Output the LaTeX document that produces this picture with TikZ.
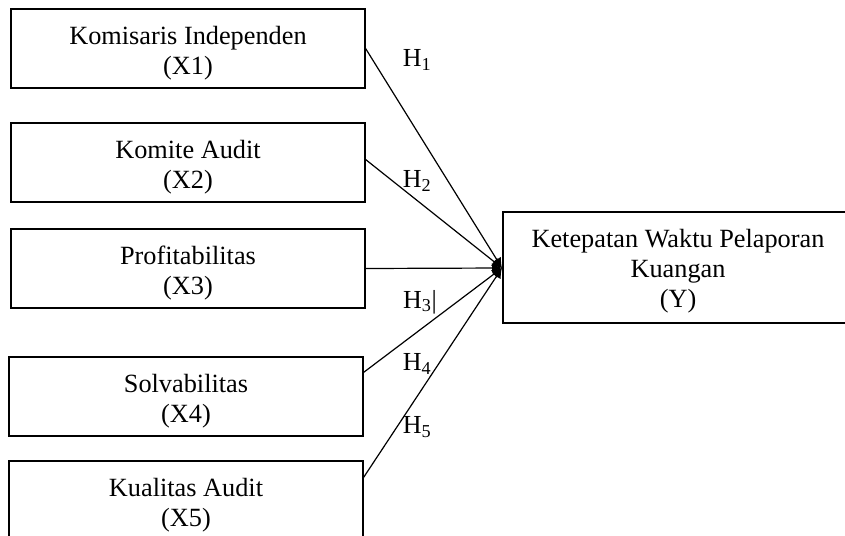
\documentclass[tikz,border=0pt]{standalone}
\usepackage{fontspec}
\setmainfont{Liberation Serif}
\usetikzlibrary{calc,arrows.meta}
\begin{document}
\begin{tikzpicture}[x=1pt,y=-1pt,
  box/.style={draw, line width=1.2pt, minimum width=354pt, minimum height=79pt,
    inner sep=0pt},
  boxtext/.style={align=center, inner sep=0pt, font=\fontsize{26.3}{30}\selectfont, yshift=-5pt},
  conn/.style={line width=1.2pt, -{Latex[length=10pt,width=10pt]}},
  lbl/.style={inner sep=0pt, font=\fontsize{26}{30}\selectfont}]
\useasboundingbox (0,0) rectangle (845,535);
\node[box, label={[boxtext]center:{Komisaris Independen\\(X1)}}] (x1) at (188,48.5) {};
\node[box, label={[boxtext]center:{Komite Audit\\(X2)}}] (x2) at (188,162.5) {};
\node[box, label={[boxtext]center:{Profitabilitas\\(X3)}}] (x3) at (188,268.5) {};
\node[box, label={[boxtext]center:{Solvabilitas\\(X4)}}] (x4) at (186,396.5) {};
\node[box, label={[boxtext]center:{Kualitas Audit\\(X5)}}] (x5) at (186,500.5) {};
\node[box, minimum width=350pt, minimum height=111pt,
  label={[boxtext, yshift=1.5pt]center:{Ketepatan Waktu Pelaporan\\Kuangan\\(Y)}}] (y) at (678,267.5) {};
\coordinate (hub) at (502,268);
\draw[conn] (x1.east) -- (hub);
\draw[conn] ($(x2.east)+(0,-3)$) -- (hub);
\draw[conn] (x3.east) -- (hub);
\draw[conn] ($(x4.north east)+(0,16)$) -- (hub);
\draw[conn] ($(x5.north east)+(0,17)$) -- (hub);
\node[lbl] (h1) at (417,60) {H\textsubscript{1}};
\node[lbl] (h2) at (417,181) {H\textsubscript{2}};
\node[lbl] (h3) at (420,302) {H\textsubscript{3}|};
\node[lbl] (h4) at (417,364) {H\textsubscript{4}};
\node[lbl] (h5) at (417,427) {H\textsubscript{5}};
\end{tikzpicture}
\end{document}
